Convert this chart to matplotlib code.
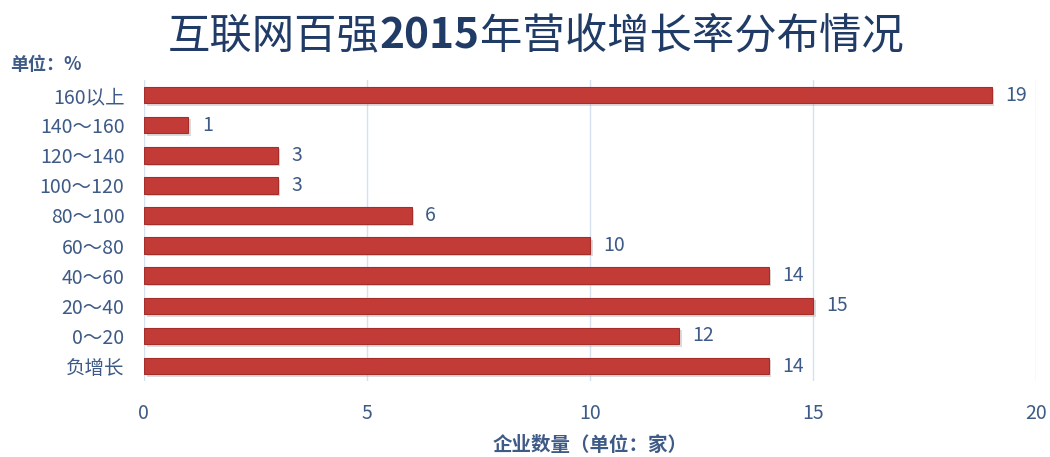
import matplotlib.pyplot as plt

plt.rcParams['font.family'] = ['Noto Sans CJK SC', 'DejaVu Sans']

# 数据
categories = ["160以上", "140～160", "120～140", "100～120", "80～100",
              "60～80", "40～60", "20～40", "0～20", "负增长"]
counts = [19, 1, 3, 3, 6, 10, 14, 15, 12, 14]

text_color = '#3E5A86'
title_color = '#1F3B66'
bar_color = '#C23B37'

fig = plt.figure(figsize=(10.5, 4.57), dpi=100)
ax = fig.add_axes([0.137, 0.166, 0.85, 0.659])

ypos = list(range(len(categories)))[::-1]
# 阴影
ax.barh([y - 0.08 for y in ypos], counts, height=0.55, left=0.06,
        color='#999999', alpha=0.35, zorder=2)
ax.barh(ypos, counts, height=0.55, color=bar_color, edgecolor='#A52E2B',
        linewidth=0.8, zorder=3)

for y, v in zip(ypos, counts):
    ax.text(v + 0.3, y, str(v), va='center', ha='left', fontsize=14,
            color=text_color)

ax.set_xlim(0, 20)
ax.set_ylim(-0.5, 9.5)
ax.set_xticks([0, 5, 10, 15, 20])
ax.set_yticks(ypos)
ax.set_yticklabels(categories)
ax.tick_params(axis='both', length=0, labelsize=14, labelcolor=text_color)
ax.tick_params(axis='x', pad=16)
ax.tick_params(axis='y', pad=14)
ax.grid(axis='x', color='#D5E1F0', linewidth=1, zorder=0)
for s in ax.spines.values():
    s.set_visible(False)

ax.set_xlabel('企业数量（单位：家）', fontsize=14, fontweight='bold',
              color=text_color, labelpad=8)

# 标题：中文常规，“2015”加粗
parts = [('互联网百强', 'normal'), ('2015', 'bold'), ('年营收增长率分布情况', 'normal')]
fig.canvas.draw()
renderer = fig.canvas.get_renderer()
texts = []
for s, w in parts:
    t = fig.text(0, 0.92, s, ha='left', va='center', fontsize=30.5,
                 fontweight=w, color=title_color)
    texts.append(t)
widths = [t.get_window_extent(renderer).width / fig.bbox.width for t in texts]
x = 0.51 - sum(widths) / 2
for t, w in zip(texts, widths):
    t.set_x(x)
    x += w

fig.text(0.01, 0.858, '单位：%', ha='left', va='center', fontsize=13,
         fontweight='bold', color=text_color)

fig.savefig('out.png', dpi=100)
